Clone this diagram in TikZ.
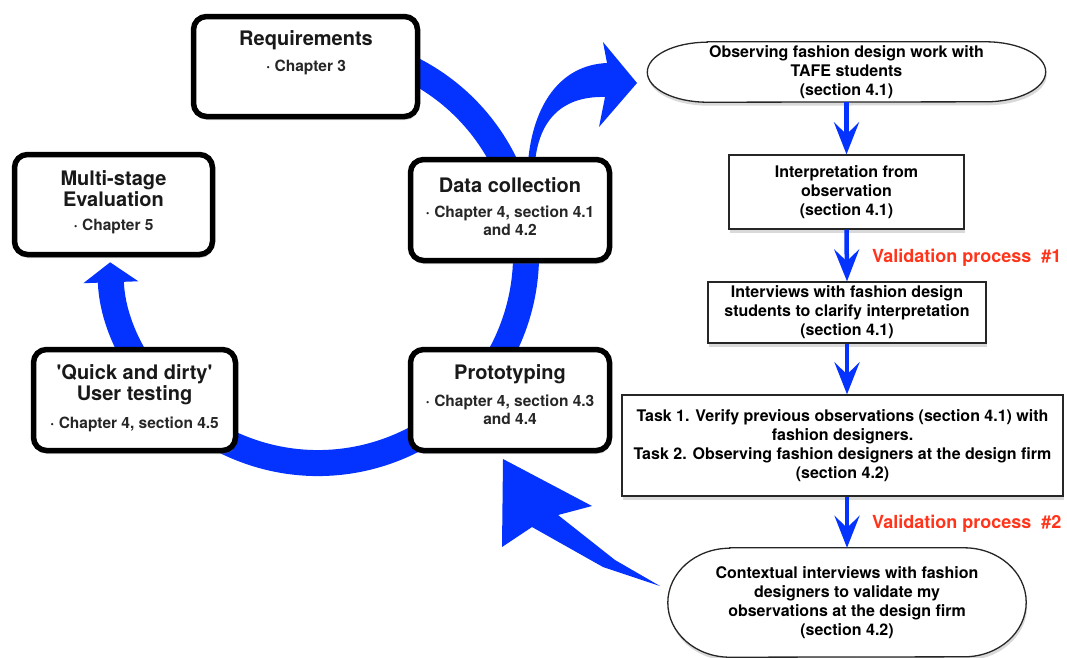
\documentclass[tikz,border=0pt]{standalone}
\usepackage{fontspec}
\setmainfont{TeX Gyre Heros}
\usetikzlibrary{arrows.meta,shadows,calc}
\definecolor{cycleblue}{RGB}{4,51,255}
\definecolor{valred}{RGB}{255,52,26}
\pgfdeclarelayer{bg}
\pgfsetlayers{bg,main}

\begin{document}
\begin{tikzpicture}[x=1pt,y=-1pt,
  softshadow/.style={drop shadow={shadow xshift=1pt, shadow yshift=-3.5pt, opacity=0.3}},
  ring/.style={draw=cycleblue, line width=26pt},
  cyclebox/.style={draw=black, line width=5.5pt, rounded corners=13pt, fill=white, softshadow},
  ctitle/.style={font=\bfseries\fontsize{20}{21}\selectfont, align=center, inner sep=0pt, text=black!90, yshift=-2pt},
  cbullet/.style={font=\bfseries\fontsize{15.5}{18}\selectfont, align=center, inner sep=0pt, text=black!85, yshift=-1.5pt},
  flowtext/.style={font=\bfseries\fontsize{16}{19}\selectfont, align=center, inner sep=0pt},
  flowbox/.style={flowtext, draw=black!85, line width=1.3pt, fill=white, softshadow},
  flowshape/.style={draw=black!85, line width=1.3pt, fill=white, softshadow},
  flowarrow/.style={draw=cycleblue, line width=4.5pt, -{Stealth[length=32pt,width=25pt,inset=12pt]}},
  valnote/.style={font=\bfseries\fontsize{18}{20}\selectfont, text=valred, anchor=west, inner sep=0pt},
]
\useasboundingbox (0,0) rectangle (1067,657);

% the design cycle ring, ending in an arrow below the evaluation stage
\draw[ring, -{Triangle[length=20pt,width=54pt]}] (318,255) ++(-67:208)
  arc[start angle=-67, end angle=178, radius=208];

% block arrow from data collection out to the field studies
\fill[cycleblue] (528,162) .. controls (533,105) and (560,65) .. (607,63)
  -- (603,42) -- (637,83) -- (599,127) -- (605,97)
  .. controls (570,96) and (540,112) .. (535,162) -- cycle;

% block arrow from the contextual interviews back to prototyping
\fill[cycleblue] (503,459) -- (592,506) -- (558,515) -- (615,560) -- (660,586)
  -- (603,567) -- (532,527) -- (502,547) -- cycle;

% stages of the cycle
\node[cyclebox, minimum width=224pt, minimum height=100pt] (req) at (305.5,66.5) {};
\node[cyclebox, minimum width=198pt, minimum height=100pt] (mul) at (113.5,204.5) {};
\node[cyclebox, minimum width=199pt, minimum height=101pt] (dc) at (510,210) {};
\node[cyclebox, minimum width=202pt, minimum height=101pt] (qui) at (134.5,400) {};
\node[cyclebox, minimum width=199pt, minimum height=101pt] (pro) at (510,400) {};

\node[ctitle] (reqT) at (306,38) {Requirements};
\node[cbullet] (reqB) at (306,66) {· Chapter 3};
\node[ctitle] (mulT) at (113.5,186.5) {Multi-stage\\Evaluation};
\node[cbullet] (mulB) at (113.5,225) {· Chapter 5};
\node[ctitle] (dcT) at (510,183) {Data collection};
\node[cbullet] (dcB) at (510,219) {· Chapter 4, section 4.1\\and 4.2};
\node[ctitle] (quiT) at (134.5,382.5) {\textquotesingle Quick and dirty\textquotesingle\\User testing};
\node[cbullet] (quiB) at (134.5,423) {· Chapter 4, section 4.5};
\node[ctitle] (proT) at (510,372) {Prototyping};
\node[cbullet] (proB) at (510,408) {· Chapter 4, section 4.3\\and 4.4};

% data collection and validation steps
\node[flowtext, minimum width=398pt, minimum height=60pt] (obs) at (846.5,72)
  {Observing fashion design work with\\TAFE students\\(section 4.1)};
\node[flowbox, minimum width=235pt, minimum height=74pt] (interp) at (846.5,192)
  {Interpretation from\\observation\\(section 4.1)};
\node[flowbox, minimum width=278pt, minimum height=61pt] (intv) at (847,312.5)
  {Interviews with fashion design\\students to clarify interpretation\\(section 4.1)};
\node[flowbox, minimum width=441pt, minimum height=101pt] (task) at (842.5,445.5)
  {Task 1. Verify previous observations (section 4.1) with\\fashion designers.\\Task 2. Observing fashion designers at the design firm\\(section 4.2)};
\node[flowtext, minimum width=358pt, minimum height=109pt] (ctx) at (847,602.5)
  {Contextual interviews with fashion\\designers to validate my\\observations at the design firm\\(section 4.2)};

% outlines with elliptical ends behind the two terminal steps
\begin{pgfonlayer}{bg}
\path[flowshape] ($(obs.north west)+(60,0)$) -- ($(obs.north east)+(-60,0)$)
  arc[start angle=-90, end angle=90, x radius=60, y radius=30]
  -- ($(obs.south west)+(60,0)$)
  arc[start angle=90, end angle=270, x radius=60, y radius=30] -- cycle;
\path[flowshape] ($(ctx.north west)+(62,0)$) -- ($(ctx.north east)+(-62,0)$)
  arc[start angle=-90, end angle=90, x radius=62, y radius=54.5]
  -- ($(ctx.south west)+(62,0)$)
  arc[start angle=90, end angle=270, x radius=62, y radius=54.5] -- cycle;
\end{pgfonlayer}

\draw[flowarrow] (obs.south) -- (interp.north);
\draw[flowarrow] (interp.south) -- (intv.north);
\draw[flowarrow] (intv.south) -- (intv.south |- task.north);
\draw[flowarrow] (ctx.north |- task.south) -- (ctx.north);

\node[valnote] (val1) at (872,258) {Validation process\ \ \#1};
\node[valnote] (val2) at (872,524) {Validation process\ \ \#2};
\end{tikzpicture}
\end{document}
